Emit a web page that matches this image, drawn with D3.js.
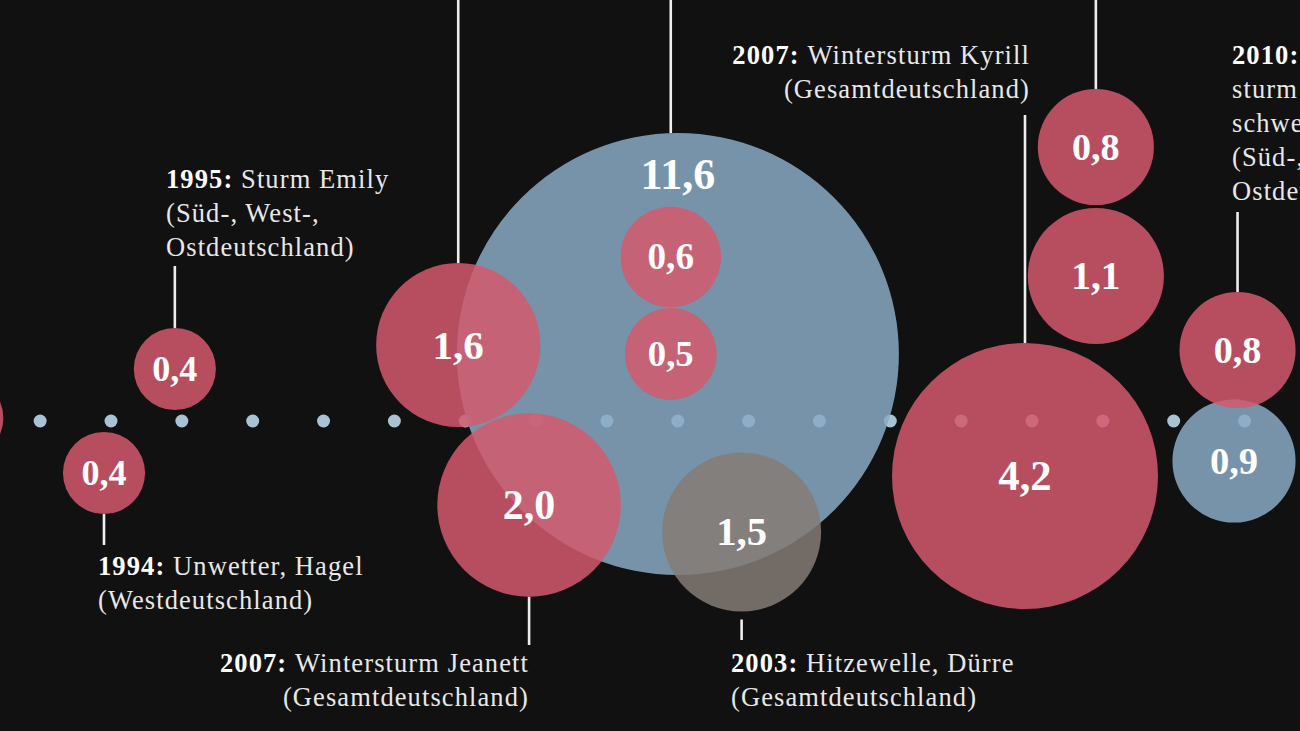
<!DOCTYPE html>
<html>
<head>
<meta charset="utf-8">
<script src="https://cdn.jsdelivr.net/npm/d3@7"></script>
<style>
  html, body { margin: 0; background: #111111; }
  svg { display: block; }
  text { font-family: "Liberation Serif", "Times New Roman", serif; }
</style>
</head>
<body>
<svg id="chart" width="1300" height="731"></svg>
<script>
const svg = d3.select("#chart");
const width = 1300,
  height = 731;

// timeline: one dot per year
const timelineYears = d3.range(1993, 2011);

// bubbles: year position, damage in bn euro, kind of event, vertical shift from the timeline
const bubbleYears = [1992, 1994, 1995, 1999, 2000, 2002.1, 2002, 2002, 2003, 2007, 2008, 2008, 2010, 2009.95];
const bubbleValues = [0.4, 0.4, 0.4, 1.6, 2.0, 11.6, 0.6, 0.5, 1.5, 4.2, 1.1, 0.8, 0.8, 0.9];
const bubbleKinds = ["storm", "storm", "storm", "storm", "storm", "flood", "storm", "storm", "heat", "storm", "storm", "storm", "storm", "flood"];
const bubbleShift = [-3, 52, -52, -76, 84, -67, -164, -67, 111, 55, -145, -274, -71, 40];

// event captions (year in bold, then the rest)
const captionYears = ["1994:", "1995:", null, "2007:", null, "2003:", "2007:", null, "2010:"];
const captionLines = [
  ["Unwetter, Hagel", "(Westdeutschland)"],
  ["Sturm Emily", "(Süd-, West-,", "Ostdeutschland)"],
  [],
  ["Wintersturm Jeanett", "(Gesamtdeutschland)"],
  [],
  ["Hitzewelle, Dürre", "(Gesamtdeutschland)"],
  ["Wintersturm Kyrill", "(Gesamtdeutschland)"],
  [],
  ["Winter-", "sturm Xynthia,", "schwere Unwetter", "(Süd-, West-,", "Ostdeutschland)"]
];

const bubbles = bubbleValues.map((v, i) => ({
  year: bubbleYears[i],
  value: v,
  kind: bubbleKinds[i],
  shift: bubbleShift[i]
}));

const axisY = 421;
const x = d3.scaleLinear().domain([1994, 2007]).range([104, 1025]);
const y = d3.scaleLinear().domain([-axisY, height - axisY]).range([0, height]);
const r = d3.scaleSqrt().domain([0, 4.2]).range([0, 133]);
const fill = d3.scaleOrdinal()
  .domain(["storm", "flood", "heat"])
  .range(["#d4596d", "#8aaac5", "#857b76"]);
const labelSize = d3.scaleLinear().domain([40, 90, 221]).range([36, 42, 44]).clamp(true);
const fmt = d3.formatLocale({ decimal: ",", thousands: ".", grouping: [3], currency: ["", "€"] }).format(".1f");

// timeline dots
svg
  .selectAll(".dot")
  .data(timelineYears)
  .enter()
  .append("circle")
  .attr("class", "dot")
  .attr("cx", (d) => x(d) + 7)
  .attr("cy", axisY)
  .attr("r", 6.5)
  .attr("fill", "#a9c3d4");

// bubbles: floods under storms, heat on top
const order = { flood: 0, storm: 1, heat: 2 };
const drawn = bubbles.slice().sort((a, b) => order[a.kind] - order[b.kind]);

svg
  .selectAll(".bubble")
  .data(drawn)
  .enter()
  .append("circle")
  .attr("class", "bubble")
  .attr("cx", (d) => x(d.year))
  .attr("cy", (d) => y(d.shift))
  .attr("r", (d) => r(d.value))
  .attr("fill", (d) => fill(d.kind))
  .attr("fill-opacity", 0.85);

// value labels (only for bubbles whose centre is on the page)
svg
  .selectAll(".value")
  .data(drawn.filter((d) => x(d.year) > 0))
  .enter()
  .append("text")
  .attr("class", "value")
  .attr("x", (d) => x(d.year))
  .attr("y", (d) => (r(d.value) > 150 ? y(d.shift) - r(d.value) * 0.81 : y(d.shift)))
  .attr("dy", "0.33em")
  .attr("text-anchor", "middle")
  .attr("fill", "#ffffff")
  .attr("font-weight", "bold")
  .attr("font-size", (d) => labelSize(r(d.value)) + "px")
  .text((d) => fmt(d.value));

// leader lines and captions
const captions = [
  { bubble: 1, side: "bottom", end: 545, tx: 98, ty: 575, anchor: "start" },
  { bubble: 2, side: "top", end: 266, tx: 166, ty: 188, anchor: "start" },
  { bubble: 3, side: "top", end: -10 },
  { bubble: 4, side: "bottom", end: 645, tx: 529, ty: 672, anchor: "end" },
  { bubble: 5, side: "top", end: -10 },
  { bubble: 8, side: "bottom", end: 640, gap: 8, tx: 731, ty: 672, anchor: "start" },
  { bubble: 9, side: "top", end: 115, tx: 1030, ty: 64, anchor: "end" },
  { bubble: 11, side: "top", end: -10 },
  { bubble: 12, side: "top", end: 212, tx: 1232, ty: 64, anchor: "start" }
];

const lineHeight = 34;

captions.forEach((c, i) => {
  const b = bubbles[c.bubble];
  const lx = x(Math.round(b.year));
  const dx = lx - x(b.year);
  const rr = r(b.value);
  const half = Math.sqrt(Math.max(rr * rr - dx * dx, 0));
  const gap = c.gap || 0;
  const edge = c.side === "top" ? y(b.shift) - half - gap : y(b.shift) + half + gap;

  svg
    .append("line")
    .attr("x1", lx)
    .attr("x2", lx)
    .attr("y1", edge)
    .attr("y2", c.end)
    .attr("stroke", "#eeeeee")
    .attr("stroke-width", 2.6);

  if (!captionYears[i]) return;

  const t = svg
    .append("text")
    .attr("x", c.tx)
    .attr("y", c.ty)
    .attr("text-anchor", c.anchor)
    .attr("fill", "#e8e8e8")
    .attr("font-size", "26.5px")
    .attr("letter-spacing", "1.1px");

  captionLines[i].forEach((line, j) => {
    const row = t
      .append("tspan")
      .attr("x", c.tx)
      .attr("y", c.ty + j * lineHeight);
    if (j === 0) {
      row.append("tspan").attr("font-weight", "bold").attr("fill", "#ffffff").text(captionYears[i] + " ");
      row.append("tspan").text(line);
    } else {
      row.text(line);
    }
  });
});
</script>
</body>
</html>
